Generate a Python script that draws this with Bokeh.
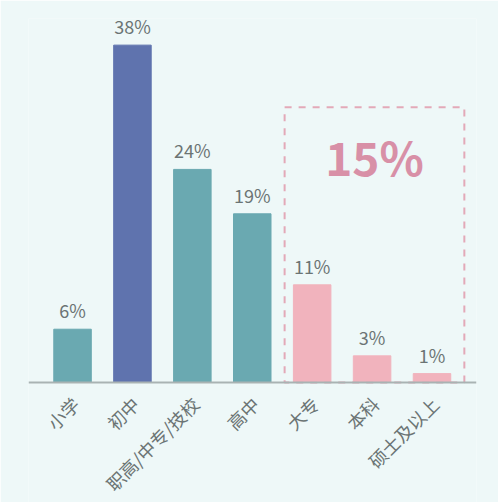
from bokeh.plotting import figure
from bokeh.models import Range1d, ColumnDataSource, Span
from bokeh.core.properties import value
from bokeh.embed import file_html
from bokeh.resources import INLINE

categories = ["小学", "初中", "职高/中专/技校", "高中", "大专", "本科", "硕士及以上"]
values = [6, 38, 24, 19, 11, 3, 1]
colors = ["#6aa9b1", "#5f73ae", "#6aa9b1", "#6aa9b1", "#f1b3bd", "#f1b3bd", "#f1b3bd"]
labels = [f"{v}%" for v in values]
group_start = 4  # 大专 onward

xs = list(range(len(categories)))
src = ColumnDataSource(dict(x=xs, top=values, color=colors, label=labels,
                            cat=categories, base=[0] * len(categories)))

BG = "#eef8f8"
FONT = "Noto Sans CJK SC"

p = figure(width=498, height=502, output_backend="svg", toolbar_location=None,
           x_range=Range1d(-0.735, len(categories) - 1 + 0.743),
           y_range=Range1d(-13.52, 41),
           min_border_left=28, min_border_right=22, min_border_top=18, min_border_bottom=0)
p.background_fill_color = BG
p.border_fill_color = BG
p.outline_line_color = None
p.grid.visible = False
p.axis.visible = False

# baseline
p.add_layout(Span(location=0, dimension="width", line_color="#a9b3b3", line_width=2))

p.vbar(x="x", top="top", width=0.626, color="color", source=src)
p.text(x="x", y="top", text="label", source=src, text_align="center", text_baseline="bottom",
       y_offset=-6, text_font=value(FONT), text_font_size="18px", text_color="#6b7474")

# dashed group box
left = group_start - 0.46
right = len(categories) - 1 + 0.54
p.quad(left=[left], right=[right], bottom=[0], top=[31], fill_color=None,
       line_color="#e3a9b8", line_width=2, line_dash="7 7")
total = sum(values[group_start:])
p.text(x=[(left + right) / 2], y=[25.5], text=[f"{total}%"], text_align="center",
       text_baseline="middle", text_font=value(FONT), text_font_size="46px",
       text_font_style="bold", text_color="#d890a7")

# category labels, rotated
p.text(x="x", y="base", text="cat", source=src, angle=0.785,
       text_align="right", text_baseline="middle", y_offset=18, x_offset=3,
       text_font=value(FONT), text_font_size="18px", text_color="#6b7474")

open("out.html", "w").write(file_html(p, INLINE))
